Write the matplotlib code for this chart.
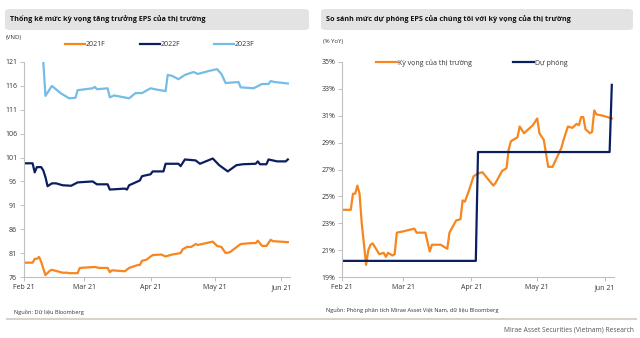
import matplotlib
matplotlib.use("Agg")
import matplotlib.pyplot as plt
from matplotlib.patches import FancyBboxPatch
from matplotlib.lines import Line2D
import pandas as pd

plt.rcParams['font.family'] = ['Open Sans', 'DejaVu Sans']

# ---------------- Left chart data (VND) ----------------
eps2021_dates = ["2021-02-01","2021-02-05","2021-02-06","2021-02-07","2021-02-08","2021-02-09","2021-02-11",
                 "2021-02-13","2021-02-14","2021-02-19","2021-02-21","2021-02-22","2021-02-26","2021-02-27",
                 "2021-03-06","2021-03-08","2021-03-12","2021-03-13","2021-03-14","2021-03-20","2021-03-22",
                 "2021-03-26","2021-03-27","2021-03-28","2021-03-30","2021-04-02","2021-04-06","2021-04-08",
                 "2021-04-11","2021-04-15","2021-04-16","2021-04-18","2021-04-20","2021-04-22","2021-04-23",
                 "2021-04-30","2021-05-02","2021-05-04","2021-05-06","2021-05-08","2021-05-13","2021-05-18",
                 "2021-05-20","2021-05-21","2021-05-23","2021-05-25","2021-05-27","2021-05-28","2021-06-04"]
eps2021 = [79.0,79.0,79.8,79.8,80.2,79.2,76.4,
           77.3,77.5,76.9,76.9,76.8,76.8,77.9,
           78.1,77.9,77.9,77.0,77.4,77.2,77.9,
           78.5,78.5,79.4,79.6,80.6,80.7,80.3,
           80.7,81.0,81.8,82.3,82.3,82.9,82.7,
           83.4,82.5,82.3,81.0,81.2,82.9,83.1,
           83.1,83.6,82.5,82.5,83.8,83.5,83.3]

eps2022_dates = ["2021-02-01","2021-02-05","2021-02-06","2021-02-07","2021-02-09","2021-02-10","2021-02-11",
                 "2021-02-12","2021-02-14","2021-02-16","2021-02-19","2021-02-23","2021-02-26","2021-03-05",
                 "2021-03-07","2021-03-12","2021-03-13","2021-03-20","2021-03-21","2021-03-22","2021-03-27",
                 "2021-03-28","2021-04-01","2021-04-02","2021-04-07","2021-04-08","2021-04-14","2021-04-15",
                 "2021-04-17","2021-04-22","2021-04-24","2021-04-30","2021-05-03","2021-05-07","2021-05-11",
                 "2021-05-14","2021-05-20","2021-05-21","2021-05-22","2021-05-25","2021-05-26","2021-05-30",
                 "2021-06-03","2021-06-04"]
eps2022 = [99.8,99.8,97.9,99.0,99.0,98.3,96.9,
           95.0,95.6,95.6,95.2,95.1,95.8,96.0,
           95.4,95.4,94.3,94.5,94.3,95.2,96.2,
           97.1,97.5,98.1,98.1,99.7,99.7,99.2,
           100.6,100.4,99.7,100.8,99.4,98.1,99.4,
           99.6,99.7,100.2,99.6,99.6,100.6,100.2,
           100.2,100.6]

eps2023_dates = ["2021-02-10","2021-02-11","2021-02-14","2021-02-18","2021-02-22","2021-02-25","2021-02-26",
                 "2021-03-05","2021-03-06","2021-03-07","2021-03-12","2021-03-13","2021-03-15","2021-03-22",
                 "2021-03-25","2021-03-28","2021-04-01","2021-04-03","2021-04-08","2021-04-09","2021-04-11",
                 "2021-04-14","2021-04-17","2021-04-21","2021-04-23","2021-04-28","2021-05-02","2021-05-04",
                 "2021-05-06","2021-05-12","2021-05-13","2021-05-19","2021-05-23","2021-05-26","2021-05-27",
                 "2021-05-29","2021-06-04"]
eps2023 = [121.0,113.9,116.0,114.5,113.4,113.5,115.1,
           115.5,115.8,115.3,115.5,113.6,114.0,113.4,
           114.5,114.5,115.5,115.3,114.9,118.3,118.1,
           117.4,118.3,118.9,118.5,119.1,119.5,118.5,
           116.6,116.8,115.7,115.5,116.4,116.4,117.0,
           116.8,116.5]

# ---------------- Right chart data (% YoY) ----------------
market_dates = ["2021-02-01","2021-02-05","2021-02-06","2021-02-07","2021-02-08","2021-02-09","2021-02-10",
                "2021-02-12","2021-02-13","2021-02-14","2021-02-15","2021-02-18","2021-02-20","2021-02-21",
                "2021-02-22","2021-02-24","2021-02-25","2021-02-26","2021-03-01","2021-03-06","2021-03-07",
                "2021-03-11","2021-03-13","2021-03-14","2021-03-18","2021-03-21","2021-03-22","2021-03-25",
                "2021-03-27","2021-03-28","2021-03-29","2021-03-31","2021-04-02","2021-04-04","2021-04-06",
                "2021-04-08","2021-04-09","2021-04-11","2021-04-12","2021-04-15","2021-04-17","2021-04-18",
                "2021-04-19","2021-04-22","2021-04-23","2021-04-25","2021-04-29","2021-05-01","2021-05-02",
                "2021-05-04","2021-05-05","2021-05-06","2021-05-08","2021-05-10","2021-05-12","2021-05-13",
                "2021-05-15","2021-05-17","2021-05-19","2021-05-20","2021-05-21","2021-05-22","2021-05-23",
                "2021-05-25","2021-05-26","2021-05-27","2021-05-28","2021-05-31","2021-06-04"]
market_yoy = [24.0,24.0,25.2,25.2,25.8,25.2,23.0,
              19.9,21.0,21.4,21.5,20.7,20.8,20.5,
              20.8,20.6,20.7,22.3,22.4,22.6,22.3,
              22.3,20.9,21.4,21.4,21.1,22.3,23.2,
              23.3,24.7,24.6,25.5,26.5,26.7,26.8,
              26.4,26.2,25.8,26.0,26.9,27.1,28.5,
              29.1,29.4,30.2,29.7,30.3,30.8,29.7,
              29.2,28.2,27.2,27.2,27.9,28.6,29.2,
              30.2,30.1,30.4,30.3,30.9,30.9,30.0,
              29.7,29.8,31.4,31.1,31.0,30.8]

forecast_dates = ["2021-02-01","2021-04-03","2021-04-04","2021-06-03","2021-06-04"]
forecast_yoy = [20.2,20.2,28.3,28.3,33.3]

left_yticks = [76, 81, 86, 91, 96, 101, 106, 111, 116, 121]
right_yticks = [19, 21, 23, 25, 27, 29, 31, 33, 35]
month_ticks = ["2021-02-01","2021-03-01","2021-04-01","2021-05-01","2021-06-01"]
month_labels = ["Feb 21","Mar 21","Apr 21","May 21","Jun 21"]

ORANGE = "#F7861E"
NAVY = "#0B1F5E"
LBLUE = "#74BDE6"
AXC = "#BFBFBF"
TXT = "#333333"

fig = plt.figure(figsize=(6.4, 3.38), dpi=100)
W, H = 640.0, 338.0

def fx(px):
    return px / W

def fy(py):
    return 1 - py / H

# title boxes
for x0, x1, text in [(5, 309, "Thống kê mức kỳ vọng tăng trưởng EPS của thị trường"),
                     (321, 633, "So sánh mức dự phóng EPS của chúng tôi với kỳ vọng của thị trường")]:
    box = FancyBboxPatch((fx(x0), fy(30)), fx(x1 - x0), (21 / H),
                         boxstyle="round,pad=0,rounding_size=0.008",
                         transform=fig.transFigure, facecolor="#E3E3E3", edgecolor="none")
    fig.patches.append(box)
    fig.text(fx(x0 + 5), fy(19.5), text, fontsize=5.2, fontweight="bold", color="#111111",
             va="center", ha="left")

fig.text(fx(6), fy(38), "(VND)", fontsize=4.3, color=TXT, va="center")
fig.text(fx(323), fy(41), "(% YoY)", fontsize=4.3, color=TXT, va="center")

def style_axes(ax):
    for s in ["top", "right"]:
        ax.spines[s].set_visible(False)
    for s in ["left", "bottom"]:
        ax.spines[s].set_color(AXC)
        ax.spines[s].set_linewidth(0.8)
    ax.tick_params(axis="both", colors=AXC, labelcolor=TXT, labelsize=5.0, length=3, width=0.7, pad=2)
    ax.set_xticks(pd.to_datetime(month_ticks))
    ax.set_xticklabels(month_labels)
    ax.set_xlim(pd.Timestamp("2021-02-01"), pd.Timestamp("2021-06-05"))

# left axes
axL = fig.add_axes([fx(24), fy(277), fx(290 - 24), (277 - 62) / H])
l1, = axL.plot(pd.to_datetime(eps2021_dates), eps2021, color=ORANGE, lw=1.6, label="2021F")
l2, = axL.plot(pd.to_datetime(eps2022_dates), eps2022, color=NAVY, lw=1.6, label="2022F")
l3, = axL.plot(pd.to_datetime(eps2023_dates), eps2023, color=LBLUE, lw=1.6, label="2023F")
axL.set_ylim(76, 121)
axL.set_yticks(left_yticks)
style_axes(axL)
fig.legend(handles=[l1, l2, l3], loc="center", bbox_to_anchor=(fx(160), fy(45)), ncol=3,
           frameon=False, fontsize=5.0, handlelength=2.9, handletextpad=0.1, columnspacing=4.9,
           labelcolor=TXT)

# right axes
axR = fig.add_axes([fx(342), fy(277), fx(614 - 342), (277 - 62) / H])
r1, = axR.plot(pd.to_datetime(market_dates), market_yoy, color=ORANGE, lw=1.6, label="Kỳ vọng của thị trường")
r2, = axR.plot(pd.to_datetime(forecast_dates), forecast_yoy, color=NAVY, lw=1.6, label="Dự phóng")
axR.set_ylim(19, 35)
axR.set_yticks(right_yticks)
axR.set_yticklabels([f"{v}%" for v in right_yticks])
style_axes(axR)
fig.legend(handles=[r1, r2], loc="center", bbox_to_anchor=(fx(472), fy(63)), ncol=2,
           frameon=False, fontsize=5.0, handlelength=2.9, handletextpad=0.2, columnspacing=6.0,
           labelcolor=TXT)

# sources
fig.text(fx(14), fy(312), "Nguồn: Dữ liệu Bloomberg", fontsize=4.1, color=TXT, va="center")
fig.text(fx(326), fy(310), "Nguồn: Phòng phân tích Mirae Asset Việt Nam, dữ liệu Bloomberg",
         fontsize=4.1, color=TXT, va="center")

fig.add_artist(Line2D([fx(7), fx(636)], [fy(319), fy(319)], transform=fig.transFigure,
                      color="#D8D2CA", lw=1.5))
fig.text(fx(634), fy(330), "Mirae Asset Securities (Vietnam) Research", fontsize=4.8,
         color="#555555", ha="right", va="center")

fig.savefig("out.png", dpi=100)
